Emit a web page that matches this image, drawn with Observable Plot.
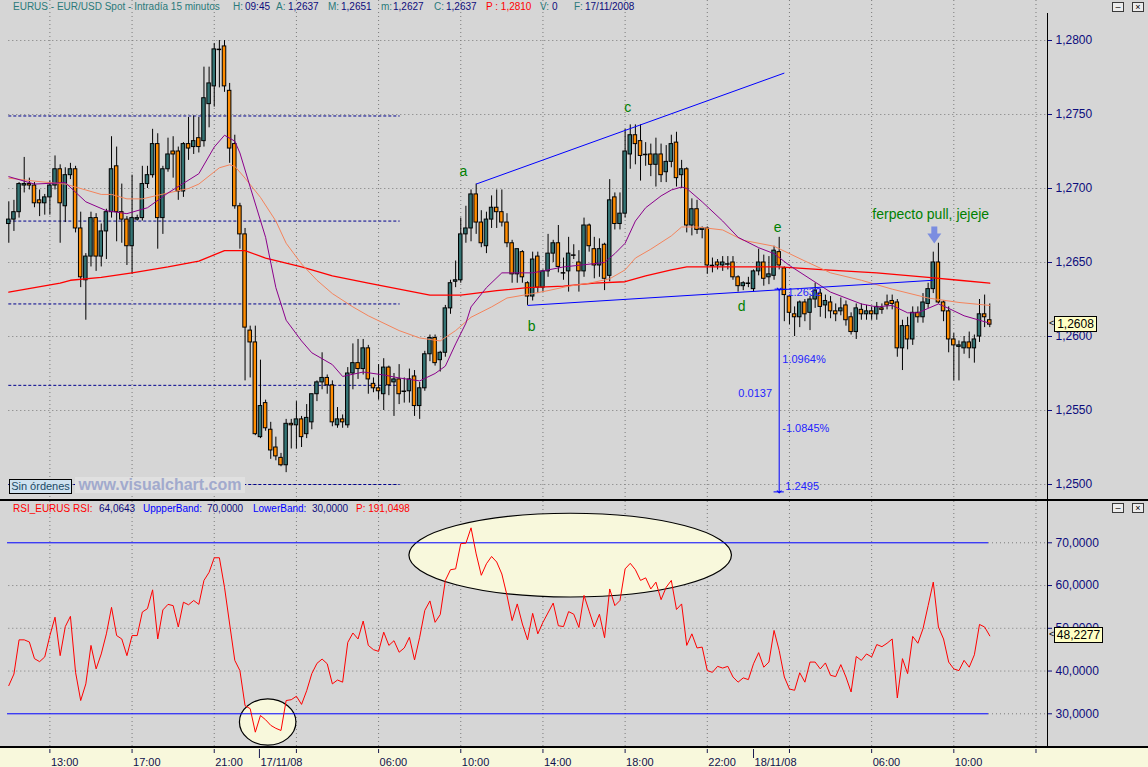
<!DOCTYPE html>
<html><head><meta charset="utf-8">
<script src="https://cdn.jsdelivr.net/npm/d3@7"></script>
<script src="https://cdn.jsdelivr.net/npm/@observablehq/plot@0.6"></script>
<style>
body{margin:0;background:#d6d6d6;}
#wrap{position:relative;width:1148px;height:767px;overflow:hidden;background:#d6d6d6;font-family:"Liberation Sans",Arial,sans-serif;}
#wrap > *{position:absolute;}
.t{white-space:pre;font-size:10px;line-height:13px;}
.ico{width:10px;height:8px;border:1px solid #3a3a3a;background:#ececec;font-size:9px;line-height:8px;text-align:center;color:#000;}
</style></head><body><div id="wrap"></div>
<script>
// ---------- DATA (EUR/USD 15-minute candles) ----------
const open = [1.2676,1.2679,1.2684,1.2702,1.2703,1.2702,1.2692,1.2690,1.2694,1.2702,
1.2713,1.2688,1.2709,1.2713,1.2673,1.2638,1.2654,1.2680,1.2654,1.2671,
1.2684,1.2715,1.2684,1.2679,1.2661,1.2679,1.2680,1.2703,1.2709,1.2730,
1.2680,1.2713,1.2725,1.2725,1.2698,1.2730,1.2728,1.2734,1.2732,1.2757,
1.2769,1.2794,1.2796,1.2766,1.2730,1.2688,1.2669,1.2604,1.2596,1.2532,
1.2555,1.2537,1.2525,1.2518,1.2513,1.2541,1.2540,1.2544,1.2534,1.2542,
1.2561,1.2569,1.2572,1.2567,1.2540,1.2544,1.2540,1.2575,1.2582,1.2578,
1.2592,1.2568,1.2565,1.2561,1.2579,1.2569,1.2571,1.2563,1.2563,1.2573,
1.2553,1.2565,1.2588,1.2599,1.2584,1.2589,1.2619,1.2637,1.2638,1.2669,
1.2673,1.2696,1.2677,1.2661,1.2679,1.2687,1.2684,1.2677,1.2663,1.2642,
1.2657,1.2636,1.2627,1.2654,1.2633,1.2644,1.2656,1.2663,1.2643,1.2644,
1.2655,1.2650,1.2644,1.2675,1.2659,1.2648,1.2662,1.2641,1.2694,1.2676,
1.2683,1.2723,1.2736,1.2732,1.2723,1.2723,1.2716,1.2723,1.2711,1.2718,
1.2731,1.2709,1.2713,1.2675,1.2686,1.2672,1.2673,1.2648,1.2650,1.2648,
1.2649,1.2650,1.2640,1.2634,1.2636,1.2632,1.2644,1.2650,1.2640,1.2641,
1.2657,1.2646,1.2627,1.2615,1.2613,1.2623,1.2616,1.2625,1.2629,1.2621,
1.2623,1.2617,1.2617,1.2621,1.2613,1.2603,1.2618,1.2615,1.2617,1.2615,
1.2619,1.2623,1.2624,1.2623,1.2592,1.2607,1.2598,1.2616,1.2613,1.2622,
1.2632,1.2650,1.2623,1.2617,1.2598,1.2593,1.2592,1.2596,1.2592,1.2600,
1.2615,1.2611];
const high = [1.2691,1.2692,1.2704,1.2721,1.2707,1.2704,1.2699,1.2696,1.2705,1.2722,
1.2716,1.2714,1.2717,1.2715,1.2684,1.2656,1.2684,1.2683,1.2676,1.2686,
1.2735,1.2728,1.2703,1.2681,1.2709,1.2682,1.2715,1.2715,1.2740,1.2737,
1.2715,1.2734,1.2735,1.2728,1.2731,1.2748,1.2749,1.2748,1.2782,1.2782,
1.2798,1.2800,1.2800,1.2771,1.2736,1.2690,1.2673,1.2607,1.2607,1.2584,
1.2557,1.2542,1.2532,1.2521,1.2544,1.2544,1.2556,1.2546,1.2554,1.2561,
1.2570,1.2589,1.2574,1.2570,1.2552,1.2547,1.2579,1.2595,1.2598,1.2598,
1.2594,1.2572,1.2581,1.2585,1.2580,1.2575,1.2581,1.2572,1.2578,1.2577,
1.2569,1.2590,1.2601,1.2601,1.2590,1.2621,1.2638,1.2651,1.2680,1.2688,
1.2699,1.2703,1.2685,1.2684,1.2695,1.2699,1.2699,1.2683,1.2665,1.2659,
1.2658,1.2637,1.2657,1.2657,1.2645,1.2669,1.2665,1.2675,1.2653,1.2667,
1.2662,1.2658,1.2680,1.2676,1.2667,1.2666,1.2663,1.2706,1.2697,1.2697,
1.2740,1.2743,1.2743,1.2743,1.2731,1.2730,1.2734,1.2730,1.2729,1.2736,
1.2738,1.2719,1.2714,1.2693,1.2692,1.2674,1.2674,1.2653,1.2652,1.2654,
1.2654,1.2654,1.2641,1.2637,1.2640,1.2645,1.2659,1.2655,1.2654,1.2661,
1.2667,1.2647,1.2628,1.2620,1.2624,1.2625,1.2627,1.2636,1.2632,1.2628,
1.2627,1.2622,1.2626,1.2624,1.2616,1.2622,1.2622,1.2621,1.2620,1.2623,
1.2622,1.2628,1.2628,1.2625,1.2611,1.2613,1.2620,1.2620,1.2629,1.2636,
1.2657,1.2663,1.2624,1.2620,1.2602,1.2597,1.2600,1.2603,1.2601,1.2625,
1.2628,1.2622];
const low = [1.2663,1.2671,1.2680,1.2697,1.2699,1.2687,1.2681,1.2682,1.2682,1.2699,
1.2663,1.2677,1.2706,1.2670,1.2633,1.2611,1.2647,1.2644,1.2647,1.2652,
1.2680,1.2664,1.2663,1.2648,1.2642,1.2678,1.2678,1.2700,1.2707,1.2659,
1.2669,1.2711,1.2707,1.2692,1.2694,1.2719,1.2723,1.2724,1.2728,1.2741,
1.2755,1.2768,1.2765,1.2717,1.2686,1.2659,1.2570,1.2572,1.2533,1.2531,
1.2536,1.2517,1.2516,1.2512,1.2508,1.2524,1.2524,1.2525,1.2531,1.2537,
1.2556,1.2564,1.2561,1.2539,1.2538,1.2538,1.2538,1.2564,1.2571,1.2574,
1.2561,1.2562,1.2557,1.2550,1.2560,1.2546,1.2554,1.2555,1.2555,1.2546,
1.2544,1.2563,1.2583,1.2580,1.2576,1.2586,1.2615,1.2633,1.2636,1.2663,
1.2664,1.2669,1.2660,1.2656,1.2673,1.2673,1.2674,1.2660,1.2636,1.2636,
1.2636,1.2621,1.2624,1.2629,1.2630,1.2640,1.2650,1.2643,1.2638,1.2630,
1.2652,1.2630,1.2640,1.2657,1.2639,1.2640,1.2631,1.2637,1.2672,1.2672,
1.2680,1.2713,1.2716,1.2705,1.2715,1.2708,1.2701,1.2704,1.2704,1.2714,
1.2701,1.2700,1.2670,1.2668,1.2669,1.2666,1.2642,1.2643,1.2645,1.2644,
1.2645,1.2638,1.2630,1.2631,1.2633,1.2630,1.2641,1.2634,1.2635,1.2638,
1.2645,1.2610,1.2608,1.2600,1.2606,1.2610,1.2604,1.2619,1.2613,1.2612,
1.2612,1.2610,1.2614,1.2607,1.2601,1.2598,1.2611,1.2611,1.2611,1.2611,
1.2615,1.2618,1.2618,1.2586,1.2577,1.2591,1.2594,1.2609,1.2609,1.2619,
1.2629,1.2622,1.2610,1.2589,1.2570,1.2570,1.2588,1.2585,1.2582,1.2596,
1.2606,1.2606];
const close = [1.2679,1.2684,1.2703,1.2703,1.2702,1.2690,1.2690,1.2694,1.2702,1.2713,
1.2690,1.2709,1.2713,1.2673,1.2640,1.2654,1.2680,1.2654,1.2671,1.2684,
1.2713,1.2684,1.2679,1.2661,1.2680,1.2680,1.2703,1.2709,1.2730,1.2680,
1.2713,1.2723,1.2723,1.2698,1.2730,1.2727,1.2732,1.2728,1.2761,1.2771,
1.2794,1.2794,1.2769,1.2727,1.2688,1.2669,1.2606,1.2596,1.2534,1.2553,
1.2538,1.2523,1.2519,1.2513,1.2541,1.2540,1.2544,1.2532,1.2545,1.2561,
1.2569,1.2572,1.2567,1.2542,1.2544,1.2542,1.2575,1.2582,1.2578,1.2592,
1.2571,1.2565,1.2563,1.2579,1.2567,1.2571,1.2561,1.2563,1.2571,1.2553,
1.2565,1.2588,1.2599,1.2582,1.2589,1.2619,1.2636,1.2638,1.2669,1.2673,
1.2696,1.2677,1.2663,1.2679,1.2687,1.2684,1.2677,1.2663,1.2642,1.2659,
1.2640,1.2627,1.2652,1.2633,1.2644,1.2656,1.2663,1.2647,1.2643,1.2656,
1.2655,1.2644,1.2675,1.2661,1.2648,1.2659,1.2639,1.2692,1.2676,1.2683,
1.2725,1.2736,1.2730,1.2722,1.2723,1.2716,1.2723,1.2709,1.2718,1.2730,
1.2707,1.2713,1.2675,1.2686,1.2672,1.2673,1.2648,1.2648,1.2648,1.2650,
1.2649,1.2640,1.2634,1.2636,1.2636,1.2644,1.2650,1.2639,1.2642,1.2658,
1.2648,1.2628,1.2616,1.2613,1.2623,1.2615,1.2625,1.2631,1.2620,1.2624,
1.2617,1.2615,1.2619,1.2611,1.2603,1.2619,1.2615,1.2617,1.2615,1.2620,
1.2618,1.2621,1.2622,1.2592,1.2607,1.2598,1.2616,1.2613,1.2623,1.2632,
1.2650,1.2623,1.2617,1.2598,1.2594,1.2594,1.2596,1.2592,1.2598,1.2615,
1.2613,1.2608];

// moving averages [bar index, price]
const maFast = [[0,1.2708],[5,1.2703],[11,1.2704],[15,1.2691],[19,1.2685],[23,1.2683],[27,1.2687],[31,1.2697],[37,1.2710],[40,1.2728],[42,1.2736],[44,1.2732],[45,1.2724],[47,1.2701],[50,1.2667],[52,1.2633],[54,1.2611],[57,1.2597],[59,1.2589],[63,1.2581],[65,1.2573],[69,1.2576],[73,1.2574],[76,1.2572],[80,1.2570],[83,1.2575],[85,1.2580],[87,1.2595],[89,1.2609],[90,1.2620],[93,1.2633],[96,1.2643],[102,1.2643],[108,1.2647],[116,1.2650],[118,1.2656],[120,1.2663],[122,1.2678],[124,1.2687],[127,1.2695],[129,1.2699],[131,1.2701],[132,1.2700],[135,1.2691],[139,1.2678],[142,1.2667],[146,1.2660],[149,1.2656],[152,1.2648],[156,1.2639],[160,1.2630],[166,1.2622],[169,1.2620],[172,1.2621],[175,1.2616],[177,1.2616],[181,1.2622],[183,1.2619],[186,1.2614],[191,1.2609]];
const maMid = [[0,1.2707],[5,1.2705],[11,1.2703],[15,1.2699],[18,1.2696],[20,1.2696],[23,1.2693],[26,1.2693],[31,1.2697],[35,1.2700],[37,1.2703],[41,1.2714],[43,1.2716],[44,1.2715],[46,1.2707],[49,1.2694],[52,1.2678],[54,1.2663],[57,1.2649],[60,1.2638],[63,1.2629],[67,1.2620],[70,1.2614],[76,1.2604],[80,1.2599],[84,1.2597],[87,1.2604],[90,1.2613],[94,1.2620],[97,1.2626],[102,1.2629],[105,1.2631],[109,1.2634],[113,1.2636],[117,1.2639],[120,1.2645],[122,1.2653],[125,1.2659],[129,1.2668],[131,1.2674],[134,1.2674],[139,1.2672],[143,1.2665],[149,1.2661],[155,1.2651],[160,1.2643],[166,1.2638],[172,1.2632],[179,1.2626],[185,1.2623],[191,1.2621]];
const maSlow = [[0,1.2630],[5,1.2633],[10,1.2636],[12,1.2638],[18,1.2640],[24,1.2643],[31,1.2647],[37,1.2651],[42,1.2658],[46,1.2658],[50,1.2653],[57,1.2647],[63,1.2641],[70,1.2636],[76,1.2632],[82,1.2628],[88,1.2628],[95,1.2631],[101,1.2633],[108,1.2634],[114,1.2636],[120,1.2637],[124,1.2641],[129,1.2645],[132,1.2647],[138,1.2647],[150,1.2647],[159,1.2645],[169,1.2643],[179,1.2640],[185,1.2638],[191,1.2636]];

// RSI [bar index, value]
const rsiPoints = [[0,36.6],[1,39.3],[2,47.3],[3,47.3],[4,46.8],[5,42.9],[6,42.2],[7,43.3],[8,48.3],[9,52.6],[10,43.6],[11,50.4],[12,52.8],[13,39.7],[14,33.1],[15,37.0],[16,46.0],[17,40.5],[18,44.0],[19,48.7],[20,54.9],[21,48.3],[22,47.5],[23,43.6],[24,48.3],[25,48.3],[26,53.8],[27,54.6],[28,59.0],[29,47.5],[30,54.3],[31,55.6],[32,55.3],[33,50.3],[34,56.1],[35,55.5],[36,56.5],[37,55.6],[38,61.2],[39,63.1],[40,66.5],[41,66.5],[42,59.6],[43,51.0],[44,42.5],[45,40.1],[46,31.9],[47,31.2],[48,25.7],[49,29.6],[50,28.6],[51,27.3],[52,26.6],[53,26.1],[54,33.1],[55,33.3],[56,34.1],[57,32.2],[58,35.4],[59,39.4],[60,41.8],[61,42.8],[62,41.7],[63,37.0],[64,37.9],[65,37.4],[66,46.7],[67,48.9],[68,47.5],[69,51.7],[70,46.0],[71,45.0],[72,44.6],[73,49.1],[74,46.0],[75,47.1],[76,44.4],[77,45.4],[78,47.9],[79,42.6],[80,47.9],[81,54.2],[82,56.4],[83,51.4],[84,53.2],[85,61.2],[86,63.7],[87,63.9],[88,69.8],[89,69.9],[90,73.5],[91,67.4],[92,62.4],[93,65.1],[94,66.8],[95,65.5],[96,62.7],[97,57.7],[98,51.8],[99,55.7],[100,51.0],[101,47.3],[102,53.5],[103,48.7],[104,51.4],[106,55.9],[107,50.6],[108,50.4],[109,53.9],[110,53.3],[111,50.2],[112,57.7],[113,54.0],[114,50.3],[115,53.3],[116,47.8],[117,59.2],[118,55.3],[119,56.5],[120,63.9],[121,65.2],[122,63.7],[123,61.2],[124,61.8],[125,59.2],[126,60.8],[127,56.7],[128,59.6],[129,61.2],[130,54.4],[131,55.7],[132,46.0],[133,48.7],[134,45.4],[135,45.6],[136,40.1],[137,39.7],[138,41.1],[139,40.7],[140,41.1],[141,38.6],[142,37.4],[143,38.4],[144,38.0],[145,41.7],[146,44.3],[147,40.9],[148,42.1],[149,49.5],[150,44.8],[151,38.6],[152,35.8],[153,35.5],[154,39.6],[155,37.4],[156,42.1],[157,42.1],[158,40.5],[159,41.9],[160,39.0],[161,38.7],[162,41.5],[163,38.6],[164,35.1],[165,43.4],[166,42.5],[167,44.0],[168,43.3],[169,46.2],[170,45.7],[171,46.5],[172,47.5],[173,33.7],[174,42.9],[175,39.4],[176,48.1],[177,46.5],[178,49.9],[179,55.3],[180,60.8],[181,50.3],[182,47.5],[183,42.1],[184,40.5],[185,40.1],[186,42.5],[187,40.9],[188,43.8],[189,50.9],[190,50.3],[191,48.2277]];

// axes / ticks
const priceTicks = [1.25,1.255,1.26,1.265,1.27,1.275,1.28];
const rsiTicks = [30,40,50,60,70];
const rsiBands = [70,30];
const gridIdx = [8,24,40,56,72,88,104,120,136,152,168,184,200];
const timeTicks = [8,24,40,48.8,56,72,88,104,120,136,145,152,168,184,200];
const dateTicks = [48.8,145];
const timeLabelIdx = [8,24,40,48.8,72,88,104,120,136,145,168,184];
const timeLabelText = ["13:00","17:00","21:00","17/11/08","06:00","10:00","14:00","18:00","22:00","18/11/08","06:00","10:00"];

// drawn annotations (in data units: bar index, price / RSI)
const levelPrices = [1.2749,1.2678,1.2622,1.2567,1.2500];
const levelRange = [0,76.2];
const trendLines = [[91,1.2703,151,1.2778],[101,1.2621,180,1.2638]];
const waveLetters = ["a","b","c","d","e"];
const waveIdx = [88.5,101.8,120.5,142.7,149.7];
const wavePrice = [1.27115,1.26068,1.27547,1.2620,1.26736];
const measure = {i:150, top:1.2632, bottom:1.2495};
const measureRight = ["1.2632","1.0964%","-1.0845%","1.2495"];
const measureRightIdx = [151.6,150.6,150.6,151.2];
const measureRightPrice = [1.2630,1.25845,1.25378,1.24986];
const measureLeft = {text:"0.0137", i:148.6, p:1.25615};
const note = {text:"ferpecto pull, jejeje", i:179.5, p:1.26824};
const noteArrow = {i:180.2, top:1.26740, neck:1.26689, head:1.26666};
const rsiEllipses = [{i:109.4, v:67.0, di:31.4, dv:9.8},{i:50.5, v:27.96, di:5.5, dv:5.4}];
const rsiBandRange = [-0.25,190.75];

// ---------- LAYOUT ----------
const W = 1148, PW = 1047;
const xDomain = [-1.616, 202.24];
const priceDomain = [1.248919, 1.282703];
const rsiDomain = [22.35, 79.66];
const TEAL = "#347474", ORANGE = "#ff8c00", GRID = "#7a7a7a", NAVY = "#0c0c7c";
const FONT = "Liberation Sans, Arial, sans-serif";
const wrap = document.getElementById("wrap");
function el(tag, css, html) { const e = document.createElement(tag); e.style.cssText = css; if (html != null) e.innerHTML = html; wrap.appendChild(e); return e; }
const fmt4 = d => d.toFixed(4).replace(".", ",");

const candles = open.map((o, i) => ({i, o, h: high[i], l: low[i], c: close[i]}));
const bodies = candles.filter(d => Math.abs(d.c - d.o) >= 0.00005);
const dojis = candles.filter(d => Math.abs(d.c - d.o) < 0.00005);
const downTri = {draw(ctx, size) { const r = Math.sqrt(size / Math.PI); ctx.moveTo(-1.4*r, -0.9*r); ctx.lineTo(1.4*r, -0.9*r); ctx.lineTo(0, 1.1*r); ctx.closePath(); }};

// main price panel
const main = Plot.plot({
  width: W, height: 500, marginLeft: 0, marginRight: W - PW, marginTop: 0, marginBottom: 0,
  style: {background: "transparent", overflow: "visible", fontFamily: FONT, fontSize: "12px"},
  x: {type: "linear", domain: xDomain, axis: null},
  y: {type: "linear", domain: priceDomain, axis: null, label: null},
  marks: [
    Plot.ruleX(gridIdx, {stroke: GRID, strokeDasharray: "1,3"}),
    Plot.ruleY(priceTicks, {x1: 0, x2: xDomain[1], stroke: GRID, strokeDasharray: "1,3"}),
    Plot.ruleY(levelPrices, {x1: levelRange[0], x2: levelRange[1], stroke: "#00008c", strokeDasharray: "3,2"}),
    Plot.ruleX(candles, {x: "i", y1: "l", y2: "h", stroke: "#000", strokeWidth: 1}),
    Plot.rect(bodies, {x1: d => d.i - 0.34, x2: d => d.i + 0.34, y1: "o", y2: "c", fill: d => d.c > d.o ? TEAL : ORANGE, stroke: "#000", strokeWidth: 1}),
    Plot.ruleY(dojis, {y: "o", x1: d => d.i - 0.45, x2: d => d.i + 0.45, stroke: "#000", strokeWidth: 1.5}),
    Plot.line(maSlow, {x: d => d[0], y: d => d[1], stroke: "#ff0000", strokeWidth: 1.3}),
    Plot.line(maMid, {x: d => d[0], y: d => d[1], stroke: "#f4845c", strokeWidth: 1}),
    Plot.line(maFast, {x: d => d[0], y: d => d[1], stroke: "#8b008b", strokeWidth: 1}),
    Plot.link(trendLines, {x1: d => d[0], y1: d => d[1], x2: d => d[2], y2: d => d[3], stroke: "#0000ff", strokeWidth: 1}),
    Plot.link([measure], {x1: "i", x2: "i", y1: "top", y2: "bottom", stroke: "#0000ff", markerStart: "arrow", markerEnd: "arrow"}),
    Plot.ruleY([measure], {y: "bottom", x1: d => d.i - 1, x2: d => d.i + 1, stroke: "#0000ff"}),
    Plot.ruleY([measure], {y: "top", x1: d => d.i - 0.8, x2: d => d.i + 1.5, stroke: "#0000ff"}),
    Plot.text(measureRight, {x: (d, k) => measureRightIdx[k], y: (d, k) => measureRightPrice[k], text: d => d, textAnchor: "start", fill: "#2424ff", fontSize: 11}),
    Plot.text([measureLeft], {x: "i", y: "p", text: "text", textAnchor: "end", fill: "#2424ff", fontSize: 11}),
    Plot.text(waveLetters, {x: (d, k) => waveIdx[k], y: (d, k) => wavePrice[k], text: d => d, fill: "#008000", fontSize: 14}),
    Plot.text([note], {x: "i", y: "p", text: "text", fill: "#008000", fontSize: 14}),
    Plot.ruleX([noteArrow], {x: "i", y1: "top", y2: "neck", stroke: "#7b8de0", strokeWidth: 6}),
    Plot.dot([noteArrow], {x: "i", y: "head", r: 5, symbol: downTri, fill: "#7b8de0", stroke: "none"}),
    Plot.axisY({anchor: "right", ticks: priceTicks, tickFormat: fmt4, tickSize: 4, tickPadding: 4, color: NAVY, fontSize: 12, label: null})
  ]
});
main.style.left = "0px"; main.style.top = "0px";
wrap.appendChild(main);

// RSI panel: layer with grid + ellipses
const RSI_TOP = 501, RSI_H = 245;
const rsiBase = Plot.plot({
  width: W, height: RSI_H, marginLeft: 0, marginRight: W - PW, marginTop: 0, marginBottom: 0,
  style: {background: "transparent", overflow: "visible", fontFamily: FONT},
  x: {type: "linear", domain: xDomain, axis: null},
  y: {type: "linear", domain: rsiDomain, axis: null},
  marks: [
    Plot.ruleX(gridIdx, {stroke: GRID, strokeDasharray: "1,3"}),
    Plot.ruleY([40,50,60], {x1: 0, x2: xDomain[1], stroke: GRID, strokeDasharray: "1,3"}),
    Plot.ruleY(rsiBands, {x1: rsiBandRange[1], x2: xDomain[1], stroke: GRID, strokeDasharray: "1,3"})
  ]
});
{
  const sx = rsiBase.scale("x"), sy = rsiBase.scale("y");
  const g = d3.select(rsiBase).append("g");
  for (const e of rsiEllipses) {
    const cx = sx.apply(e.i), cy = sy.apply(e.v);
    g.append("ellipse").attr("cx", cx).attr("cy", cy)
      .attr("rx", sx.apply(e.i + e.di) - cx).attr("ry", sy.apply(e.v - e.dv) - cy)
      .attr("fill", "#f8f8dc").attr("stroke", "#000").attr("stroke-width", 1.2);
  }
}
rsiBase.style.left = "0px"; rsiBase.style.top = RSI_TOP + "px";
wrap.appendChild(rsiBase);

const rsiTop = Plot.plot({
  width: W, height: RSI_H, marginLeft: 0, marginRight: W - PW, marginTop: 0, marginBottom: 0,
  style: {background: "transparent", overflow: "visible", fontFamily: FONT, fontSize: "12px"},
  x: {type: "linear", domain: xDomain, axis: null},
  y: {type: "linear", domain: rsiDomain, axis: null, label: null},
  marks: [
    Plot.ruleY(rsiBands, {x1: rsiBandRange[0], x2: rsiBandRange[1], stroke: "#0000ff", strokeWidth: 1}),
    Plot.line(rsiPoints, {x: d => d[0], y: d => d[1], stroke: "#ff0000", strokeWidth: 1}),
    Plot.axisY({anchor: "right", ticks: rsiTicks, tickFormat: fmt4, tickSize: 4, tickPadding: 4, color: NAVY, fontSize: 12, label: null})
  ]
});
rsiTop.style.left = "0px"; rsiTop.style.top = RSI_TOP + "px";
wrap.appendChild(rsiTop);

// time axis
const timeAxis = Plot.plot({
  width: W, height: 19, marginLeft: 0, marginRight: W - PW, marginTop: 0, marginBottom: 0,
  style: {background: "#f8f8dc", overflow: "visible", fontFamily: FONT},
  x: {type: "linear", domain: xDomain, axis: null},
  y: {type: "linear", domain: [0, 19], range: [0, 19], axis: null},
  marks: [
    Plot.ruleX(timeTicks, {x: d => d, y1: 1, y2: d => dateTicks.includes(d) ? 10 : 5, stroke: "#1a1a50"}),
    Plot.text(timeLabelText, {x: (d, k) => timeLabelIdx[k], y: 14, text: d => d, textAnchor: "start", dx: 1, fill: "#10104c", fontSize: 11})
  ]
});
timeAxis.style.left = "0px"; timeAxis.style.top = "748px";
wrap.appendChild(timeAxis);

// ---------- chrome ----------
el("div", `left:0;top:499px;width:${W}px;height:2px;background:#000;`);
el("div", `left:0;top:746px;width:${W}px;height:2px;background:#000;`);
el("div", `left:${PW}px;top:13px;width:1px;height:487px;background:#000;`);
el("div", `left:${PW}px;top:501px;width:1px;height:245px;background:#000;`);

// header line
const hdr = [["EURUS - EUR/USD Spot - Intradía 15 minutos", "#2a7a7a", 13],
  ["H:", "#2a7a7a", 233], ["09:45", NAVY, 245],
  ["A:", "#2a7a7a", 276], ["1,2637", NAVY, 288],
  ["M:", "#2a7a7a", 328], ["1,2651", NAVY, 341],
  ["m:", "#2a7a7a", 381], ["1,2627", NAVY, 393],
  ["C:", "#2a7a7a", 434], ["1,2637", NAVY, 446],
  ["P : 1,2810", "#ff0000", 486],
  ["V:", "#2a7a7a", 540], ["0", NAVY, 552],
  ["F:", "#2a7a7a", 574], ["17/11/2008", NAVY, 585]];
for (const [t, c, x] of hdr) el("div", `left:${x}px;top:0px;color:${c};`, t).className = "t";
const rsiHdr = [["RSI_EURUS RSI:", "#ff0000", 13], ["64,0643", NAVY, 99], ["UppperBand:", "#0000ff", 143],
  ["70,0000", NAVY, 207], ["LowerBand:", "#0000ff", 253], ["30,0000", NAVY, 312], ["P: 191,0498", "#ff0000", 356]];
for (const [t, c, x] of rsiHdr) el("div", `left:${x}px;top:502px;color:${c};`, t).className = "t";

// window icons
for (const top of [2, 503]) {
  el("div", `left:1112px;top:${top}px;`, "&#8211;").className = "ico";
  el("div", `left:1132px;top:${top}px;`, "&#215;").className = "ico";
}

// last value tags (positioned through the plot scales)
const yLast = main.scale("y").apply(close[close.length - 1]);
el("div", `left:1049px;top:${yLast - 7}px;font-size:9px;line-height:13px;color:#000;`, "&lt;");
el("div", `left:1054px;top:${yLast - 8}px;width:41px;height:14px;border:1px solid #000;background:#ffffc4;font-size:12px;line-height:14px;text-align:center;color:#000;`, fmt4(close[close.length - 1]));
const rLastVal = rsiPoints[rsiPoints.length - 1][1];
const yR = RSI_TOP + rsiTop.scale("y").apply(rLastVal);
el("div", `left:1049px;top:${yR - 7}px;font-size:9px;line-height:13px;color:#000;`, "&lt;");
el("div", `left:1054px;top:${yR - 8}px;width:47px;height:14px;border:1px solid #000;background:#ffffc4;font-size:12px;line-height:14px;text-align:center;color:#000;`, fmt4(rLastVal));

// broker box + watermark
el("div", `left:9px;top:479px;width:61px;height:13px;border:1px solid #000;background:#cfe2f0;color:#1b4a66;font-size:11px;line-height:13px;text-align:center;`, "Sin órdenes");
el("div", `left:75px;top:477px;width:170px;height:16px;background:#e0e0e0;color:#a2aacd;font-size:16px;font-weight:bold;line-height:16px;text-align:center;`, "www.visualchart.com");
</script></body></html>
